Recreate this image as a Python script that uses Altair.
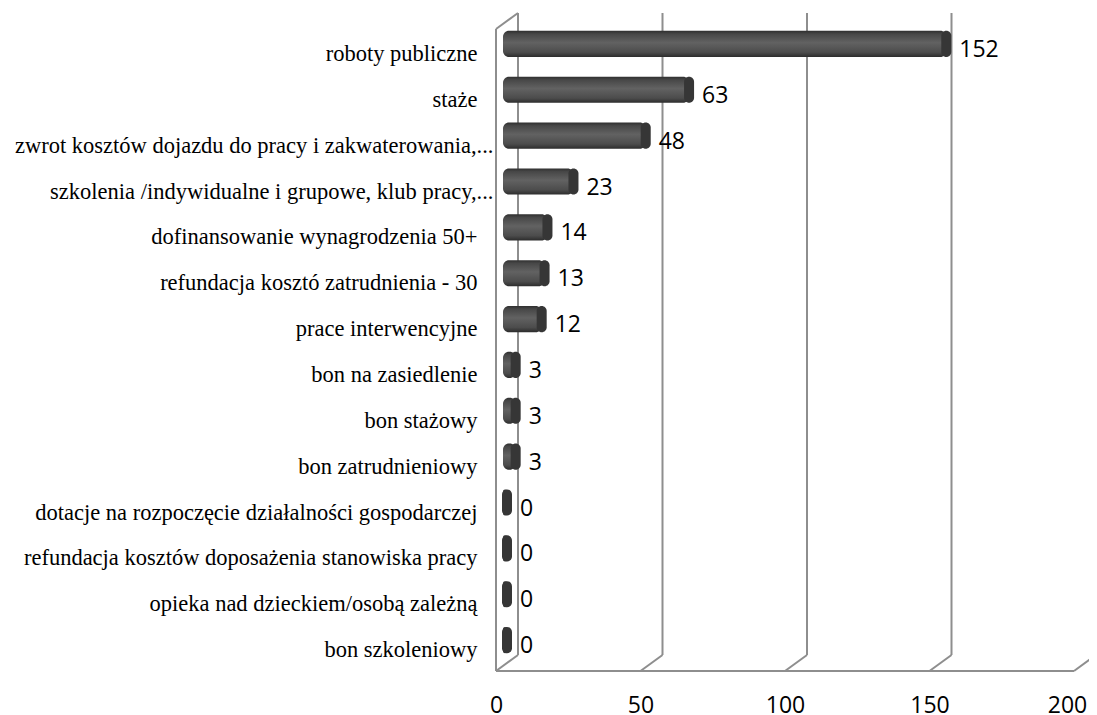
import altair as alt
import pandas as pd

categories = [
    "roboty publiczne",
    "staże",
    "zwrot kosztów dojazdu do pracy i zakwaterowania,...",
    "szkolenia /indywidualne i grupowe, klub pracy,...",
    "dofinansowanie wynagrodzenia 50+",
    "refundacja kosztó zatrudnienia - 30 ",
    "prace interwencyjne",
    "bon na  zasiedlenie",
    "bon stażowy",
    "bon zatrudnieniowy",
    "dotacje na rozpoczęcie działalności gospodarczej",
    "refundacja kosztów doposażenia stanowiska pracy",
    "opieka nad dzieckiem/osobą zależną ",
    "bon szkoleniowy",
]
values = [152, 63, 48, 23, 14, 13, 12, 3, 3, 3, 0, 0, 0, 0]
ticks = [0, 50, 100, 150, 200]

df = pd.DataFrame({"cat": categories, "val": values, "base": [0] * len(values)})
tk = pd.DataFrame({"t": ticks})
origin = pd.DataFrame({"t": [ticks[0]], "end": [ticks[-1]]})

W, H = 578, 642
DX, DY = 11, 8
GRID = "#8e8e8e"

xscale = alt.Scale(domain=[0, 200], nice=False, zero=True)
x_axis = alt.Axis(values=ticks, grid=False, domain=False, ticks=False,
                  labelFont="Open Sans", labelFontSize=23, labelColor="black",
                  labelPadding=31,
                  labelOffset={"condition": {"test": "datum.value >= 200", "value": -18},
                               "value": -11},
                  labelFlush=False, title=None)
yscale = alt.Scale(domain=categories, paddingInner=0.43, paddingOuter=0.215)
y_axis = alt.Axis(title=None, ticks=False, domain=False, labelFont="Liberation Serif",
                  labelFontSize=22.5, labelColor="black",
                  labelPadding={"condition": {"test": "indexof(datum.value, ',...') >= 0", "value": 14},
                                "value": 30},
                  labelOffset=10, labelLimit=700)

def X(f):
    return alt.X(f, scale=xscale, axis=x_axis)

Y = alt.Y("cat:N", scale=yscale, axis=y_axis, sort=categories)

back = alt.Chart(tk).mark_rule(color=GRID, strokeWidth=2, xOffset=DX).encode(
    x=X("t:Q"), y=alt.value(-DY), y2=alt.value(H - DY))
floor_diag = alt.Chart(tk).mark_rule(color=GRID, strokeWidth=2, xOffset=-DX, x2Offset=DX).encode(
    x=X("t:Q"), x2=alt.X2("t"), y=alt.value(H + DY), y2=alt.value(H - DY))
front_floor = alt.Chart(origin).mark_rule(color=GRID, strokeWidth=2, xOffset=-DX, x2Offset=-DX).encode(
    x=X("t:Q"), x2=alt.X2("end"), y=alt.value(H + DY))
left_vert = alt.Chart(origin).mark_rule(color=GRID, strokeWidth=2, xOffset=-DX).encode(
    x=X("t:Q"), y=alt.value(DY), y2=alt.value(H + DY))
top_diag = alt.Chart(origin).mark_rule(color=GRID, strokeWidth=2, xOffset=-DX, x2Offset=DX).encode(
    x=X("t:Q"), x2=alt.X2("t"), y=alt.value(DY), y2=alt.value(-DY))

grad = alt.Gradient(
    gradient="linear", x1=0, x2=0, y1=0, y2=1,
    stops=[
        alt.GradientStop(color="#2f2f2f", offset=0),
        alt.GradientStop(color="#474747", offset=0.12),
        alt.GradientStop(color="#626262", offset=0.45),
        alt.GradientStop(color="#4c4c4c", offset=0.82),
        alt.GradientStop(color="#2c2c2c", offset=1),
    ],
)

body = alt.Chart(df).mark_bar(color=grad, cornerRadius=6, xOffset=-4).encode(
    x=X("base:Q"), x2=alt.X2("val"), y=Y)
cap = alt.Chart(df).mark_bar(color="#363636", cornerRadius=5, xOffset=-5, x2Offset=5).encode(
    x=X("val:Q"), x2=alt.X2("val"), y=Y)
text = alt.Chart(df).mark_text(align="left", baseline="middle", dx=13, dy=6,
                               font="Open Sans", fontSize=23, color="black").encode(
    x=X("val:Q"), y=Y, text="val:Q")

chart = alt.layer(back, floor_diag, front_floor, left_vert, top_diag, body, cap, text).properties(
    width=W, height=H,
    padding={"left": 499, "top": 13, "right": 4, "bottom": 52},
    autosize=alt.AutoSizeParams(type="none"),
    background="white",
).configure_view(stroke=None)

chart.save("out.html", embed_options={"renderer": "svg", "actions": False})
